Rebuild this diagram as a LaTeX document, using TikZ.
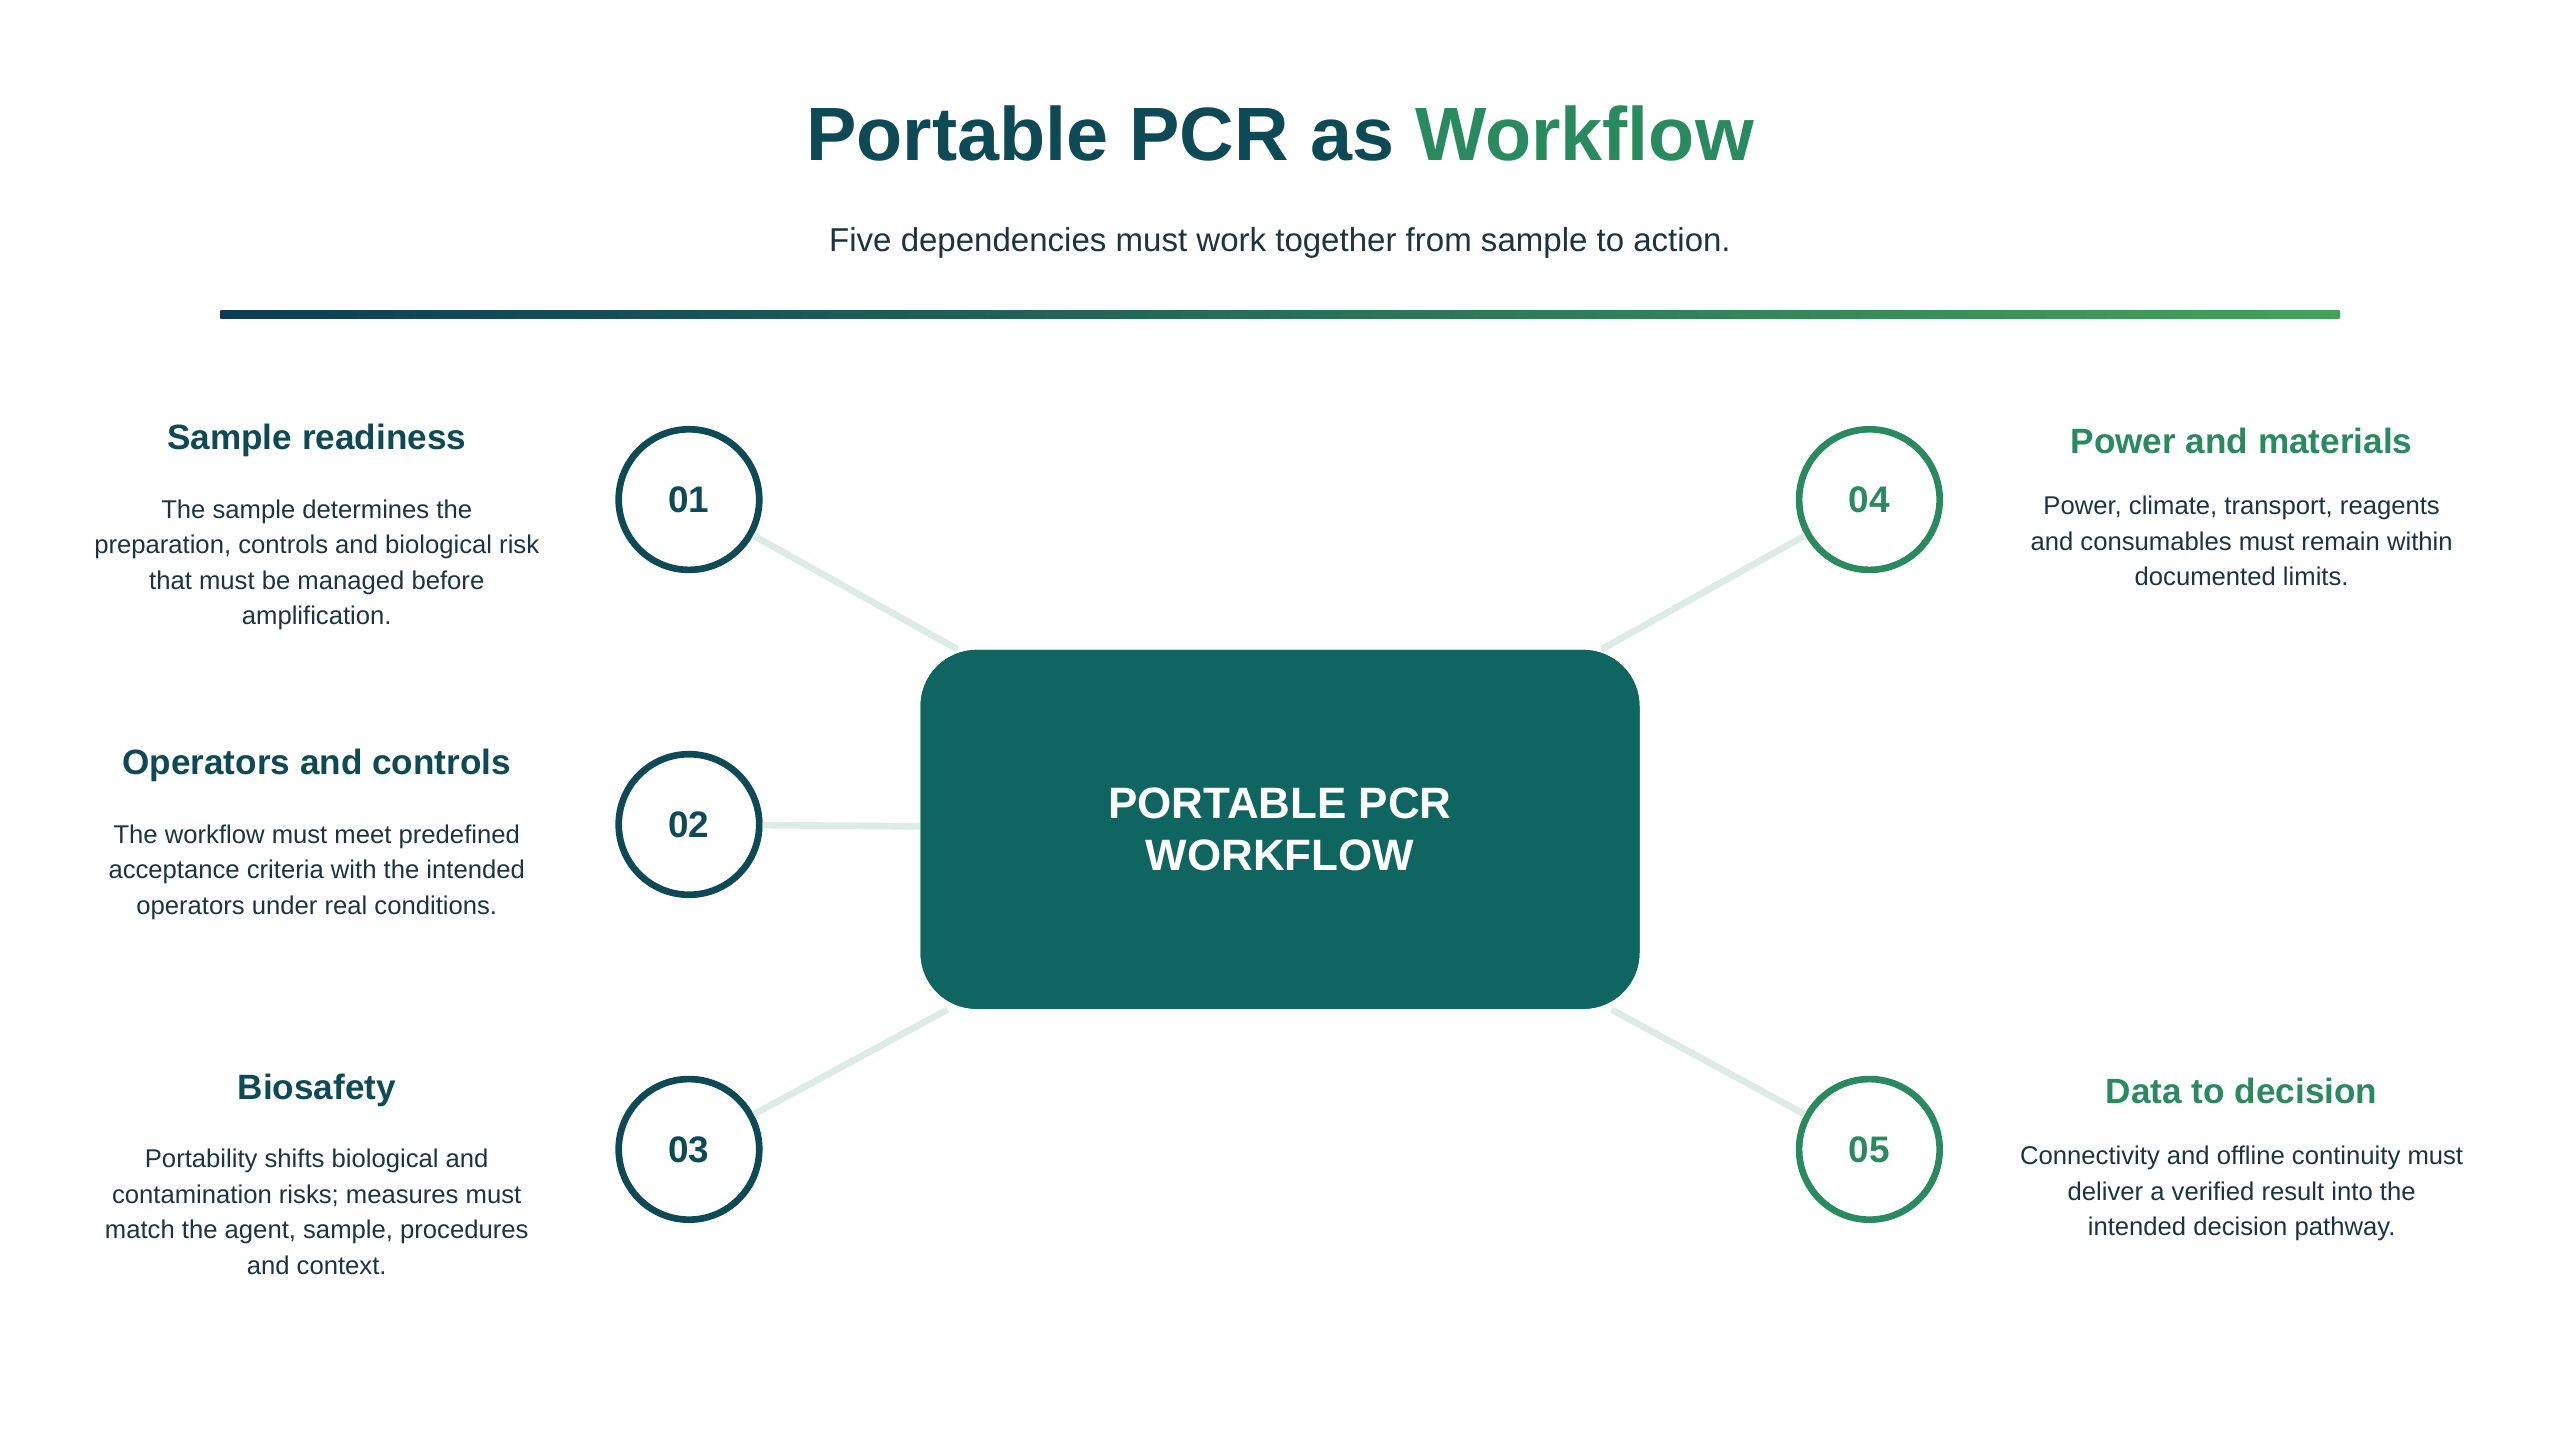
\documentclass[tikz,border=0pt]{standalone}
\usepackage{fontspec}
\setmainfont{Liberation Sans}
\usetikzlibrary{positioning}
\definecolor{darkteal}{HTML}{0E4A55}
\definecolor{midgreen}{HTML}{2A8A5F}
\definecolor{boxteal}{HTML}{0F6660}
\definecolor{linkgrey}{HTML}{DCEBE6}
\definecolor{bodytext}{HTML}{1C3440}
\definecolor{barstart}{HTML}{0D3B55}
\definecolor{barend}{HTML}{43A35A}
\tikzset{
  step/.style={circle, draw=#1, line width=1.9pt, minimum size=40pt, inner sep=0pt,
    font=\fontsize{10.5}{12}\selectfont\bfseries, text=#1},
  head/.style={font=\fontsize{10}{12}\selectfont\bfseries, text=#1, align=center},
  body/.style={font=\fontsize{7.3}{10.1}\selectfont, text=bodytext, align=center},
  link/.style={draw=linkgrey, line width=1.9pt}
}
\begin{document}
\begin{tikzpicture}[x=0.01633cm, y=-0.01633cm]
  \useasboundingbox (0,0) rectangle (1568,882);

  % title and rule
  \node (title) at (784,82) {\fontsize{21.5}{24}\selectfont\bfseries
    \textcolor{darkteal}{Portable PCR as} \textcolor{midgreen}{Workflow}};
  \node[font=\fontsize{9.4}{11}\selectfont, text=bodytext] (subtitle) at (784,149)
    {Five dependencies must work together from sample to action.};
  \shade[left color=barstart, right color=barend] (135,190) rectangle (1433,195);

  % hub
  \node[fill=boxteal, rounded corners=16pt, minimum width=440\pgflinewidth, inner sep=0pt,
    text=white, font=\fontsize{12.5}{15}\selectfont\bfseries, align=center,
    minimum width=7.19cm, minimum height=3.59cm] (hub) at (784,508)
    {PORTABLE PCR\\WORKFLOW};

  % steps
  \node[step=darkteal] (s1) at (422,306) {01};
  \node[step=darkteal] (s2) at (422,505) {02};
  \node[step=darkteal] (s3) at (422,704) {03};
  \node[step=midgreen] (s4) at (1145,306) {04};
  \node[step=midgreen] (s5) at (1145,704) {05};

  \begin{scope}[on background layer/.style={}]
  \foreach \s in {s1,s2,s3,s4,s5}
    \draw[link] (\s) -- (hub);
  \end{scope}
  \node[fill=boxteal, rounded corners=16pt, minimum width=7.19cm, minimum height=3.59cm,
    text=white, font=\fontsize{12.5}{15}\selectfont\bfseries, align=center] at (hub)
    {PORTABLE PCR\\WORKFLOW};

  % left texts
  \node[head=darkteal] (h1) at (194,270) {Sample readiness};
  \node[body, below=5pt of h1] (b1) {The sample determines the\\preparation, controls and biological risk\\that must be managed before\\amplification.};
  \node[head=darkteal] (h2) at (194,469) {Operators and controls};
  \node[body, below=5pt of h2] (b2) {The workflow must meet predefined\\acceptance criteria with the intended\\operators under real conditions.};
  \node[head=darkteal] (h3) at (194,668) {Biosafety};
  \node[body, below=5pt of h3] (b3) {Portability shifts biological and\\contamination risks; measures must\\match the agent, sample, procedures\\and context.};

  % right texts
  \node[head=midgreen] (h4) at (1373,270) {Power and materials};
  \node[body, below=5pt of h4] (b4) {Power, climate, transport, reagents\\and consumables must remain within\\documented limits.};
  \node[head=midgreen] (h5) at (1373,668) {Data to decision};
  \node[body, below=5pt of h5] (b5) {Connectivity and offline continuity must\\deliver a verified result into the\\intended decision pathway.};
\end{tikzpicture}
\end{document}
